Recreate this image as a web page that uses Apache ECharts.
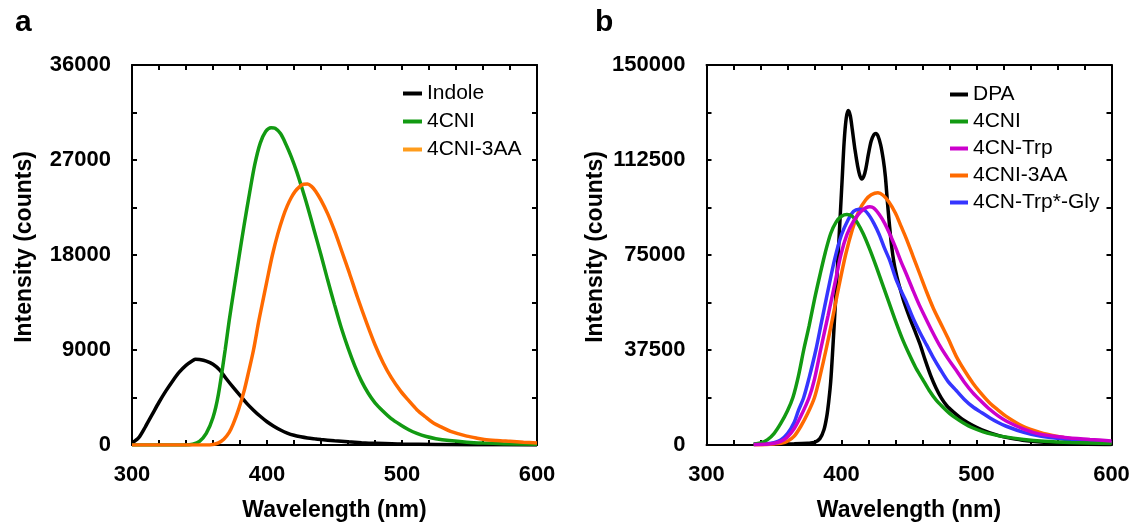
<!DOCTYPE html>
<html>
<head>
<meta charset="utf-8">
<script src="https://cdn.jsdelivr.net/npm/echarts@6/dist/echarts.min.js"></script>
<style>
html,body{margin:0;padding:0;background:#fff;}
#chart{width:1136px;height:527px;}
</style>
</head>
<body>
<div id="chart"></div>
<script>
// ---------- Panel a data ----------
const aXTicks = [300, 400, 500, 600];
const aYTicks = [0, 9000, 18000, 27000, 36000];
const aNames = ['Indole', '4CNI', '4CNI-3AA'];

const aIndoleWl = [300,305,310,315,320,325,330,335,340,345,347,350,355,360,365,370,375,380,385,390,395,400,405,410,415,420,425,430,435,440,450,460,470,480,500,550,600];
const aIndole   = [200,700,1750,2900,4050,5100,6050,6900,7550,8000,8130,8100,7950,7650,7100,6250,5450,4700,3950,3300,2720,2200,1780,1420,1130,920,780,670,590,520,400,300,220,160,85,30,10];

const a4CNIWl = [300,340,345,350,355,360,364,369,372,375,379.5,383,387,391,395,399,403,406,410,414,418,422,426,430,435,440,445,450,455,460,465,470,475,480,486,492,499,505,511,518,525,535,548,560,575,600];
const a4CNI   = [0,0,80,350,1100,2600,4800,9000,11800,14300,18000,20800,23800,26600,28600,29700,30060,30000,29500,28500,27300,25900,24300,22600,20300,18000,15600,13300,11100,9200,7500,6050,4900,4000,3200,2500,1900,1450,1100,800,600,420,270,190,130,60];

const a3AAWl = [300,355,360,364,368,372,375,379,383,386.5,390,394,397.5,401,404,408,412,415,418,421,424,427,430,433,436,440,445,450,455,461,467,474,480,486,492,499,505,511,517,523,530,536,542,548,555,561,570,580,590,600];
const a3AA   = [0,0,50,200,550,1200,2000,3400,5100,7000,9000,11800,14000,16200,18000,20000,21650,22650,23450,24050,24450,24700,24720,24500,24050,23200,21900,20300,18500,16300,14000,11500,9500,7800,6400,5100,4200,3350,2700,2100,1650,1300,1050,840,660,530,430,350,270,200];

// ---------- Panel b data ----------
const bXTicks = [300, 400, 500, 600];
const bYTicks = [0, 37500, 75000, 112500, 150000];
const bNames = ['DPA', '4CNI', '4CN-Trp', '4CNI-3AA', '4CN-Trp*-Gly'];

const bDPAWl = [335,350,365,375,380,384,387,389,390.5,392,393.5,395.5,397.5,399,400.5,402,403.5,405,406.5,408,410,412,413.5,415,416.5,418,420,422,424,425.5,427,429,431,432.5,434,435.5,437,439,441,443,446,450,454,458,462,466,470,474,478,483,490,497,504,510,516,522,534,550,570,600];
const bDPA   = [300,400,500,700,1000,2500,6000,11000,17000,25000,37500,56000,75000,90000,105000,120000,129000,132000,130000,124500,116500,110000,106500,105000,106000,109000,115000,120000,122500,123000,122000,118500,112500,106000,96000,87000,79000,71500,66500,62500,57000,51000,45500,40000,33500,27500,22500,18500,15500,13000,10000,7800,6000,4800,3800,3000,1900,1100,500,200];

const b4CNIWl = [335,340,345,350,355,360,364,368,372,376,380,384,388,392,396,400,404,408,412,416,420,425,430,435,440,445,450,455,460,465,470,475,480,485,490,497,505,512,520,535,550,570,600];
const b4CNI   = [300,800,2000,4500,8500,13500,18750,27000,37500,47000,57500,67000,76000,83500,88000,90300,91000,90300,87500,83500,78500,71500,64000,56500,49000,42000,36000,30500,26000,21500,17800,15000,12500,10500,8800,6800,5200,4200,3300,2200,1500,1000,600];

const bTrpWl = [335,345,350,355,360,365,370,376,380,384.5,390,395,399.5,404,409,414,418,421,424,428,432,436,440,444,448,453,457,461,467,473,479,485,491,497,504,510,516,522,535,547,565,584,600];
const bTrp   = [150,400,700,1400,3200,6500,11500,18750,26000,37500,51000,63500,75000,83000,88500,92000,93600,94000,93500,91000,87500,83000,78000,72500,67500,61000,56000,51500,45000,39000,34000,29500,24800,20800,17000,14000,11500,9500,6300,4300,3000,2200,1600];

const b3AAWl = [335,345,350,355,360,365,370,375,380,384,388.5,393,398,403,408,413,418,422,427,431,435,440,444,448,453,458,463,468,473,479,485,491,497.5,504,510,516,522,534,547,559,572,584,600];
const b3AA   = [100,200,400,700,1500,3500,7500,12500,18750,27000,37500,49000,62500,75000,85000,92500,96800,98800,99600,98500,96000,91500,86500,81500,74500,67500,60500,54000,48500,42000,35000,29500,24300,20000,16500,13800,11300,7500,5000,3500,2400,1600,900];

const bGlyWl = [335,345,350,355,360,365,368,372,376,381,385,390,395,400,405,409,413,416,420,424,428,432,436,440,444,448,453,458,463,468,473,479,485,491,497,504,510,516,522,535,547,565,584,600];
const bGly   = [200,500,900,2000,4500,9000,13500,18750,26500,37500,48000,61000,73500,83000,89000,92300,93100,93000,91000,87500,83000,77500,72500,66000,61000,56500,50000,44500,39500,34500,30000,25000,21500,18000,15200,12700,10700,8900,7400,5000,3500,2300,1500,1000];

// ---------- build ----------
const FONT = "'Liberation Sans', Arial, Helvetica, sans-serif";
const zip = (xs, ys) => xs.map((x, i) => [x, ys[i]]);
const plain = v => String(v);

function xAxisDef(gi, pos, ticks, withLabels) {
  return {
    type: 'value', gridIndex: gi, position: pos,
    min: ticks[0], max: ticks[ticks.length - 1], interval: ticks[1] - ticks[0],
    axisLine: {show: true, onZero: false, lineStyle: {color: '#000', width: 2}},
    axisTick: {show: true, inside: true, length: 5, lineStyle: {color: '#000', width: 2}},
    minorTick: {show: true, splitNumber: 5, length: 5, lineStyle: {color: '#000', width: 2}},
    splitLine: {show: false},
    axisLabel: {show: withLabels, margin: 19, color: '#000', fontSize: 22, fontWeight: 'bold', fontFamily: FONT, formatter: plain},
    name: withLabels ? 'Wavelength (nm)' : '',
    nameLocation: 'middle', nameGap: 54,
    nameTextStyle: {color: '#000', fontSize: 23, fontWeight: 'bold', fontFamily: FONT}
  };
}
function yAxisDef(gi, pos, ticks, withLabels, gap) {
  return {
    type: 'value', gridIndex: gi, position: pos,
    min: ticks[0], max: ticks[ticks.length - 1], interval: ticks[1] - ticks[0],
    axisLine: {show: true, onZero: false, lineStyle: {color: '#000', width: 2}},
    axisTick: {show: true, inside: true, length: 5, lineStyle: {color: '#000', width: 2}},
    minorTick: {show: true, splitNumber: 2, length: 5, lineStyle: {color: '#000', width: 2}},
    splitLine: {show: false},
    axisLabel: {show: withLabels, margin: 21, color: '#000', fontSize: 22, fontWeight: 'bold', fontFamily: FONT, formatter: plain},
    name: withLabels ? 'Intensity (counts)' : '',
    nameLocation: 'middle', nameGap: gap, nameRotate: 90,
    nameTextStyle: {color: '#000', fontSize: 23, fontWeight: 'bold', fontFamily: FONT, padding: [0, 0, 0, 16]}
  };
}
function line(name, data, color, xi, yi, z) {
  return {
    type: 'line', name: name, data: data, xAxisIndex: xi, yAxisIndex: yi,
    showSymbol: false, symbol: 'none', smooth: 0.3, z: z,
    lineStyle: {color: color, width: 3.5}, itemStyle: {color: color}
  };
}

const C = {black: '#000000', green: '#129a12', orange: '#ff6a00', orangeLegA: '#ff9c1c', magenta: '#cc00cc', blue: '#3535ff'};

const legendText = {color: '#000', fontSize: 21, fontFamily: FONT, lineHeight: 21};

const option = {
  animation: false,
  backgroundColor: '#fff',
  title: [
    {text: 'a', left: 15, top: 8, padding: 0, textStyle: {fontSize: 30, fontWeight: 'bold', color: '#000', fontFamily: FONT}},
    {text: 'b', left: 595, top: 8, padding: 0, textStyle: {fontSize: 30, fontWeight: 'bold', color: '#000', fontFamily: FONT}}
  ],
  legend: [
    {
      orient: 'vertical', left: 403, top: 83, padding: 0, icon: 'rect', itemWidth: 19, itemHeight: 4, itemGap: 7,
      textStyle: legendText, selectedMode: false,
      data: [
        {name: aNames[0], itemStyle: {color: C.black}},
        {name: aNames[1], itemStyle: {color: C.green}},
        {name: aNames[2], itemStyle: {color: C.orangeLegA}}
      ]
    },
    {
      orient: 'vertical', left: 950, top: 84, padding: 0, icon: 'rect', itemWidth: 18, itemHeight: 4, itemGap: 6,
      textStyle: legendText, selectedMode: false,
      data: [
        {name: bNames[0], itemStyle: {color: C.black}},
        {name: bNames[1], itemStyle: {color: C.green}},
        {name: bNames[2], itemStyle: {color: C.magenta}},
        {name: bNames[3], itemStyle: {color: C.orange}},
        {name: bNames[4], itemStyle: {color: C.blue}}
      ]
    }
  ],
  grid: [
    {left: 132, top: 65, width: 405, height: 384, containLabel: false},
    {left: 706.5, top: 65, width: 405, height: 384, containLabel: false}
  ],
  xAxis: [
    xAxisDef(0, 'bottom', aXTicks, true),
    xAxisDef(0, 'top', aXTicks, false),
    xAxisDef(1, 'bottom', bXTicks, true),
    xAxisDef(1, 'top', bXTicks, false)
  ],
  yAxis: [
    yAxisDef(0, 'left', aYTicks, true, 96),
    yAxisDef(0, 'right', aYTicks, false, 0),
    yAxisDef(1, 'left', bYTicks, true, 99),
    yAxisDef(1, 'right', bYTicks, false, 0)
  ],
  series: [
    line(aNames[0], zip(aIndoleWl, aIndole), C.black, 0, 0, 2),
    line(aNames[1], zip(a4CNIWl, a4CNI), C.green, 0, 0, 3),
    line(aNames[2], zip(a3AAWl, a3AA), C.orange, 0, 0, 4),
    line(bNames[0], zip(bDPAWl, bDPA), C.black, 2, 2, 2),
    line(bNames[3], zip(b3AAWl, b3AA), C.orange, 2, 2, 3),
    line(bNames[4], zip(bGlyWl, bGly), C.blue, 2, 2, 4),
    line(bNames[1], zip(b4CNIWl, b4CNI), C.green, 2, 2, 5),
    line(bNames[2], zip(bTrpWl, bTrp), C.magenta, 2, 2, 6)
  ]
};

const chart = echarts.init(document.getElementById('chart'), null, {renderer: 'canvas'});
chart.setOption(option);
</script>
</body>
</html>
